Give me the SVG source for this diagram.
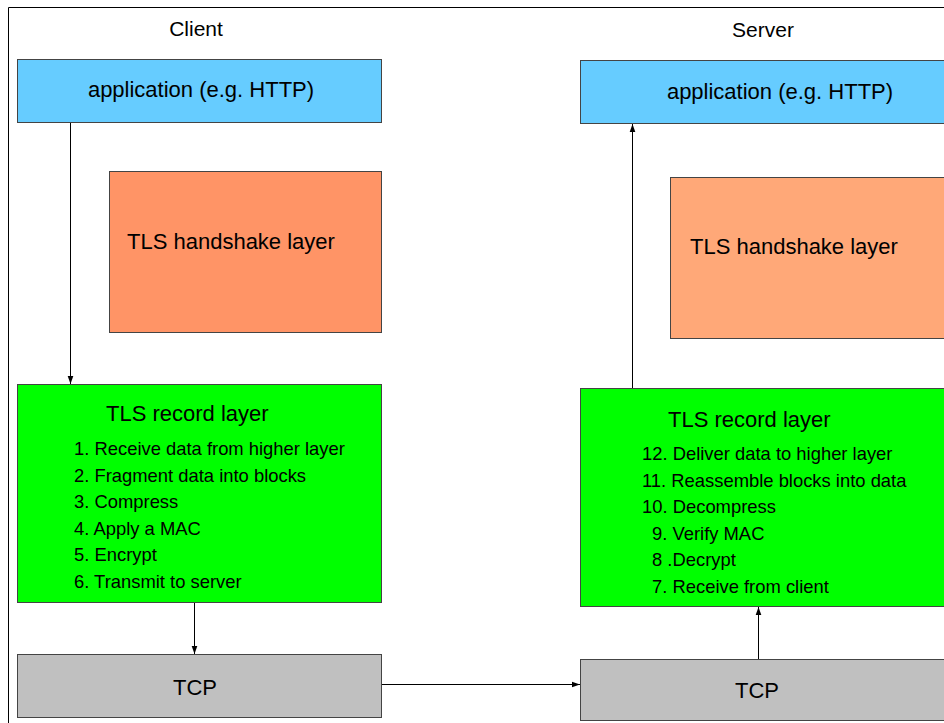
<svg xmlns="http://www.w3.org/2000/svg" width="944" height="723" viewBox="0 0 944 723">
<defs>
<style>
.box{stroke:#444;stroke-width:1}
.app{fill:#66CCFF}
.hs1{fill:#FF9466}
.hs2{fill:#FFA878}
.rec{fill:#00FF00}
.tcp{fill:#C0C0C0}
text{font-family:"Liberation Sans",Arial,sans-serif;fill:#000}
.t{font-size:22px}
.h{font-size:21px}
.l{font-size:18.4px}
.c{stroke:#000;stroke-width:1;fill:none;marker-end:url(#ah)}
</style>
<marker id="ah" viewBox="0 0 10 10" refX="10" refY="5" markerWidth="8" markerHeight="8" markerUnits="userSpaceOnUse" orient="auto">
<path d="M0,1.5 L10,5 L0,8.5 z" fill="#000"/>
</marker>
</defs>
<rect width="944" height="723" fill="#fff"/>
<path d="M8.5,723 V7.5 H944" stroke="#000" stroke-width="1" fill="none"/>
<text x="196" y="36" class="h" text-anchor="middle">Client</text>
<text x="763" y="37" class="h" text-anchor="middle">Server</text>
<g id="client-app"><rect class="box app" x="17.5" y="59.5" width="364" height="63"/><text x="201" y="97" class="t" text-anchor="middle">application (e.g. HTTP)</text></g>
<g id="client-handshake"><rect class="box hs1" x="109.5" y="171.5" width="272" height="161"/><text x="127" y="249" class="t">TLS handshake layer</text></g>
<g id="client-record"><rect class="box rec" x="17.5" y="384.5" width="364" height="218"/>
<text x="106" y="421" class="t">TLS record layer</text>
<text class="l"><tspan x="74" y="455">1. Receive data from higher layer</tspan><tspan x="74" y="481.5">2. Fragment data into blocks</tspan><tspan x="74" y="508">3. Compress</tspan><tspan x="74" y="534.5">4. Apply a MAC</tspan><tspan x="74" y="561">5. Encrypt</tspan><tspan x="74" y="587.5">6. Transmit to server</tspan></text></g>
<g id="client-tcp"><rect class="box tcp" x="17.5" y="654.5" width="364" height="63"/><text x="195" y="695" class="t" text-anchor="middle">TCP</text></g>
<g id="server-app"><rect class="box app" x="580.5" y="60.5" width="370" height="63"/><text x="780" y="99" class="t" text-anchor="middle">application (e.g. HTTP)</text></g>
<g id="server-handshake"><rect class="box hs2" x="670.5" y="177.5" width="280" height="161"/><text x="690" y="254" class="t">TLS handshake layer</text></g>
<g id="server-record"><rect class="box rec" x="580.5" y="388.5" width="370" height="218"/>
<text x="668" y="427" class="t">TLS record layer</text>
<text class="l"><tspan x="642" y="460">12. Deliver data to higher layer</tspan><tspan x="642" y="487">11. Reassemble blocks into data</tspan><tspan x="642" y="513">10. Decompress</tspan><tspan x="652" y="540">9. Verify MAC</tspan><tspan x="652" y="566">8 .Decrypt</tspan><tspan x="652" y="593">7. Receive from client</tspan></text></g>
<g id="server-tcp"><rect class="box tcp" x="580.5" y="659.5" width="370" height="61"/><text x="757" y="698" class="t" text-anchor="middle">TCP</text></g>
<g id="connectors">
<path class="c" d="M70.5,123 V384"/>
<path class="c" d="M194.5,603 V654"/>
<path class="c" d="M382,684.5 H580"/>
<path class="c" d="M758.5,659 V607"/>
<path class="c" d="M632.5,388 V124"/>
</g>
</svg>
